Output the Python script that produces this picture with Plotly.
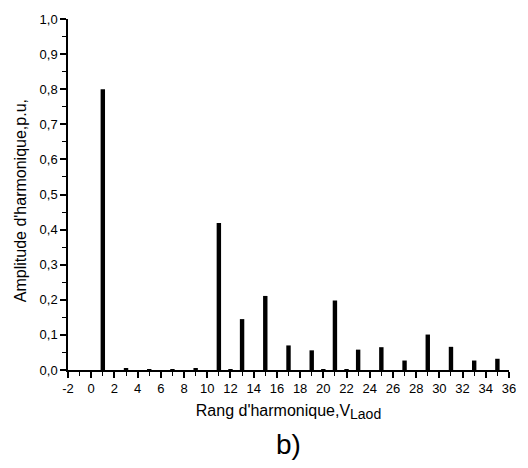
import plotly.graph_objects as go

harmonic_order = [1, 3, 5, 7, 9, 11, 12, 13, 15, 17, 19, 20, 21, 22, 23, 25, 27, 29, 31, 33, 35]
amplitude_pu = [0.80, 0.004, 0.002, 0.002, 0.004, 0.419, 0.002, 0.145, 0.211, 0.070, 0.056,
                0.002, 0.198, 0.002, 0.058, 0.065, 0.027, 0.101, 0.066, 0.027, 0.032]

x_tickvals = list(range(-2, 37, 2))
x_ticktext = [str(v) for v in x_tickvals]
y_tickvals = [i / 10 for i in range(11)]
y_ticktext = [f"{v:.1f}".replace(".", ",") for v in y_tickvals]

fig = go.Figure()
fig.add_trace(go.Bar(
    x=harmonic_order, y=amplitude_pu, width=0.38,
    marker=dict(color="black", line=dict(width=0)),
))

font = "Arial, Liberation Sans, sans-serif"
fig.update_layout(
    width=528, height=468,
    margin=dict(l=68, r=16, t=14, b=98),
    paper_bgcolor="white", plot_bgcolor="white",
    showlegend=False,
    font=dict(family=font, size=13, color="black"),
    xaxis=dict(
        range=[-2, 36], tickvals=x_tickvals, ticktext=x_ticktext,
        showline=True, linecolor="black", linewidth=1.5, showgrid=False, zeroline=False,
        ticks="outside", ticklen=6, tickwidth=1.5, tickcolor="black",
        minor=dict(dtick=1, tick0=-2, ticks="outside", ticklen=4, tickwidth=1.2, tickcolor="black"),
        tickfont=dict(size=13),
        title=dict(text="Rang d'harmonique,V<sub><span style=\"font-size:14px\">Laod</span></sub>",
                   font=dict(size=16), standoff=9),
    ),
    yaxis=dict(
        range=[0, 1.0], tickvals=y_tickvals, ticktext=y_ticktext,
        showline=True, linecolor="black", linewidth=1.5, showgrid=False, zeroline=False,
        ticks="outside", ticklen=6, tickwidth=1.5, tickcolor="black",
        minor=dict(dtick=0.05, tick0=0, ticks="outside", ticklen=4, tickwidth=1.2, tickcolor="black"),
        tickfont=dict(size=13),
    ),
    annotations=[
        dict(text="b)", x=0.5, xref="paper", y=-0.213, yref="paper",
             yanchor="middle", xanchor="center",
             showarrow=False, font=dict(size=28)),
        dict(text="Amplitude d'harmonique,p.u,", textangle=-90,
             x=-0.108, xref="paper", y=0.482, yref="paper",
             xanchor="center", yanchor="middle",
             showarrow=False, font=dict(size=16)),
    ],
)
fig.write_html("out.html")
